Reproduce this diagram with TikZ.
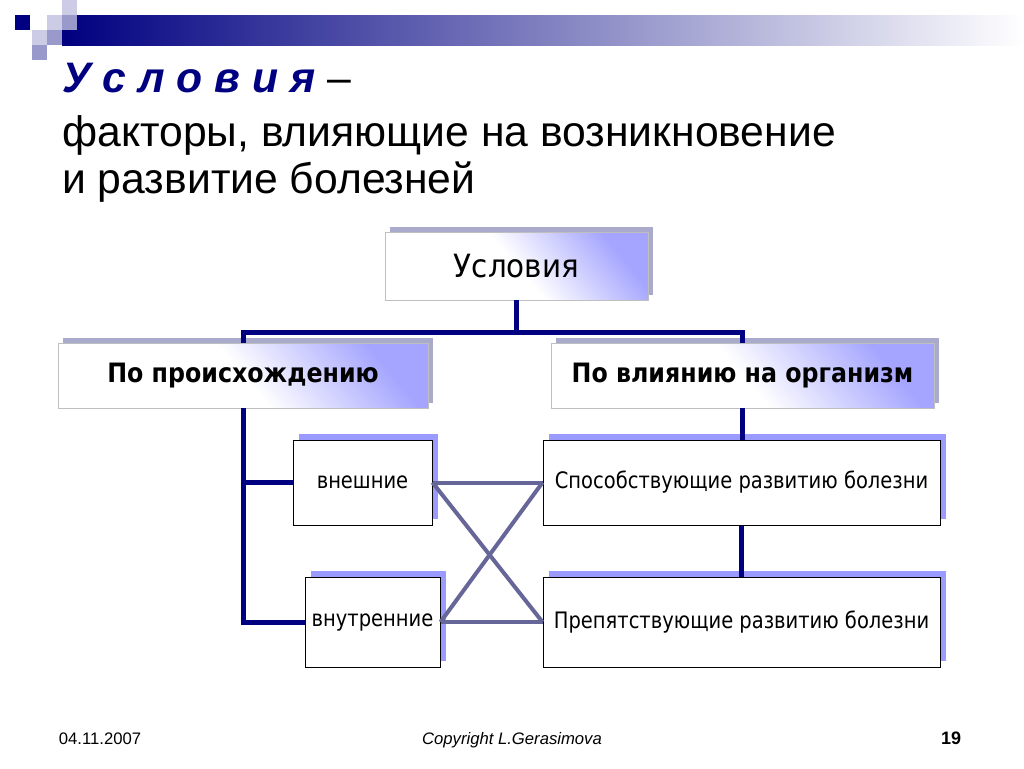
\documentclass[tikz,border=0pt]{standalone}
\usepackage{fontspec}
\setmainfont{Liberation Sans}
\newfontfamily\headfont[FakeStretch=0.92]{DejaVu Sans}
\newfontfamily\groupfont[FakeStretch=0.89]{DejaVu Sans}
\newfontfamily\boxfont[FakeStretch=0.86]{DejaVu Sans}
\usepackage{tikz}
\usetikzlibrary{shadows}
\definecolor{navy}{RGB}{0,0,128}
\definecolor{lavlight}{RGB}{204,204,230}
\definecolor{lavmid}{RGB}{153,153,204}
\definecolor{lavgrad}{RGB}{155,155,255}
\definecolor{lavsoft}{RGB}{165,165,255}
\definecolor{shadowgray}{RGB}{170,170,205}
\definecolor{crossline}{RGB}{102,102,153}

\begin{document}
\begin{tikzpicture}[
    x=0.75pt,y=-0.75pt,
    titleline/.style={anchor=base west,inner sep=0pt,font=\fontsize{32}{36}\selectfont},
    foot/.style={anchor=base,inner sep=0pt,font=\fontsize{12.5}{15}\selectfont},
    gradbox/.style={draw=black!25,line width=0.6pt,inner sep=0pt,
      top color=lavsoft,bottom color=white,middle color=white,shading angle=-50,
      general shadow={fill=shadowgray,shadow xshift=3.75pt,shadow yshift=3.75pt}},
    headbox/.style={gradbox,font=\headfont\fontsize{24}{28}\selectfont},
    groupbox/.style={gradbox,font=\groupfont\fontsize{20}{24}\selectfont\bfseries},
    smallbox/.style={draw,fill=white,line width=0.75pt,inner sep=0pt,
      general shadow={fill=lavgrad,shadow xshift=4.5pt,shadow yshift=4.5pt},
      font=\boxfont\fontsize{17}{20}\selectfont},
    tree/.style={draw=navy,line width=3.75pt},
    cross/.style={draw=crossline,line width=3pt}
  ]
    \useasboundingbox (0,0) rectangle (1024,768);

    % header strip
    \shade[left color=navy,right color=white] (62,15) rectangle (1024,45);
    \fill[navy] (15,15) rectangle (30,30);
    \fill[lavlight] (62,0) rectangle (77,15);
    \fill[lavlight] (47,15) rectangle (62,30);
    \fill[lavmid] (62,15) rectangle (77,30);
    \fill[lavlight] (32,30) rectangle (47,45);
    \fill[lavmid] (47,30) rectangle (62,45);
    \fill[lavmid] (32,45) rectangle (47,60);

    % title
    \node[titleline] (t1) at (62,92) {{\color{navy}\bfseries\itshape У с л о в и я} –};
    \node[titleline] (t2) at (62,146) {факторы, влияющие на возникновение};
    \node[titleline] (t3) at (62,193) {и развитие болезней};

    % boxes
    \node[headbox,minimum width=197.25pt,minimum height=51pt] (top) at (516.5,266) {Условия};
    \node[groupbox,minimum width=277.5pt,minimum height=48.75pt] (lmid) at (243,375.5) {По происхождению};
    \node[groupbox,minimum width=287.25pt,minimum height=48.75pt] (rmid) at (742.5,375.5) {По влиянию на организм};

    \node[smallbox,minimum width=104.25pt,minimum height=63.75pt] (vnesh) at (362.5,482.5) {внешние};
    \node[smallbox,minimum width=101.25pt,minimum height=67.5pt] (vnutr) at (372.5,622) {внутренние};
    \node[smallbox,minimum width=297.75pt,minimum height=63.75pt] (sposob) at (741.5,482.5) {Способствующие развитию болезни};
    \node[smallbox,minimum width=297.75pt,minimum height=67.5pt] (prep) at (741.5,622) {Препятствующие развитию болезни};

    % tree
    \draw[tree] (top.south) -- ++(0,33);
    \draw[tree] (lmid.north) -- ++(0,-10) -| (rmid.north);
    \draw[tree] (lmid.south) |- (vnutr.west);
    \draw[tree] (lmid.south |- vnesh.west) -- (vnesh.west);
    \draw[tree] (rmid.south) -- (rmid.south |- sposob.north);
    \draw[tree] (sposob.south) -- (prep.north);

    % cross links
    \draw[cross] (vnesh.east) -- (sposob.west);
    \draw[cross] (vnesh.east) -- (prep.west);
    \draw[cross] (vnutr.east) -- (sposob.west);
    \draw[cross] (vnutr.east) -- (prep.west);

    % footer
    \node[foot] (date) at (100,744) {04.11.2007};
    \node[foot] (copy) at (512,744) {\itshape Copyright L.Gerasimova};
    \node[foot,font=\fontsize{13.5}{16}\selectfont\bfseries] (page) at (951,744) {19};
\end{tikzpicture}
\end{document}
